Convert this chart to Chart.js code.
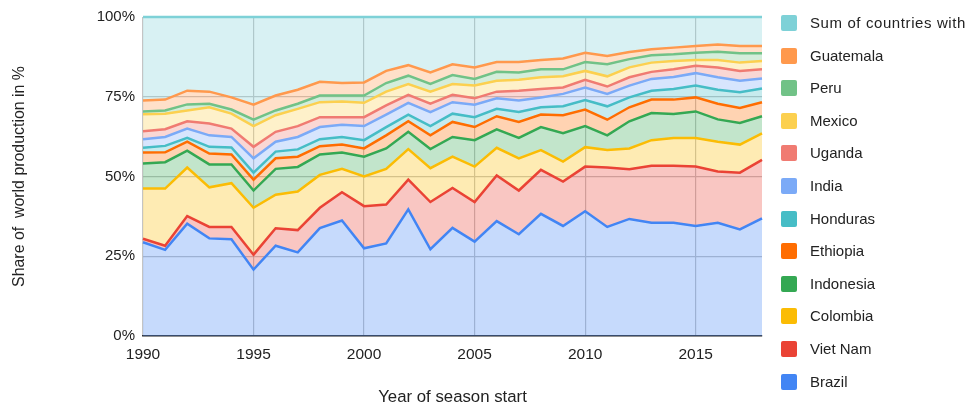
<!DOCTYPE html>
<html><head><meta charset="utf-8">
<script src="https://cdn.jsdelivr.net/npm/chart.js@4"></script>
<style>
html,body{margin:0;padding:0;background:#fff;}
#wrap{position:relative;width:975px;height:408px;overflow:hidden;}
#legend{position:absolute;left:781px;top:0;width:194px;height:408px;overflow:hidden;font-family:Arial,"Liberation Sans",sans-serif;font-size:15px;color:#222;}
.item{position:absolute;left:0;height:16px;white-space:nowrap;}
.box{position:absolute;left:0;top:0;width:16px;height:16px;border-radius:2px;}
.lab{position:absolute;left:29px;top:-1px;line-height:18px;}
</style></head>
<body><div id="wrap"><canvas id="c" width="975" height="408"></canvas><div id="legend"></div></div>
<script>
const years = [1990,1991,1992,1993,1994,1995,1996,1997,1998,1999,2000,2001,2002,2003,2004,2005,2006,2007,2008,2009,2010,2011,2012,2013,2014,2015,2016,2017,2018];
const yTicks = [0,25,50,75,100];
const brazil    = [29.4,27.0,35.2,30.6,30.3,20.8,28.3,26.2,33.8,36.2,27.5,29.0,39.7,27.2,33.9,29.6,36.0,31.9,38.3,34.5,39.1,34.2,36.7,35.5,35.5,34.5,35.5,33.4,36.9];
const vietNam   = [1.1,1.3,2.4,3.6,3.9,4.7,5.5,7.0,6.4,8.9,13.2,12.2,9.3,14.8,12.5,12.4,14.3,13.7,13.8,13.9,14.0,18.6,15.6,17.9,17.9,18.6,16.1,17.8,18.3];
const colombia  = [15.7,17.9,15.2,12.4,13.7,14.7,10.5,12.1,10.3,7.3,9.3,11.2,9.6,10.6,9.8,11.1,8.7,10.1,6.2,6.3,6.1,5.5,6.5,8.0,8.7,9.0,9.3,8.8,8.3];
const indonesia = [7.9,8.3,5.3,7.2,5.9,5.4,8.1,7.7,6.4,5.1,6.2,6.4,5.4,6.0,6.2,8.3,5.8,6.4,7.2,8.9,6.6,4.6,8.5,8.5,7.5,8.3,7.0,6.8,5.4];
const ethiopia  = [3.4,3.1,2.8,3.4,3.1,3.4,3.3,3.2,2.6,2.5,2.6,4.1,3.3,4.3,4.7,4.1,4.1,5.0,3.9,5.6,5.2,4.9,4.4,4.2,4.5,4.4,4.9,4.7,4.4];
const honduras  = [1.5,2.0,1.2,2.1,2.2,2.2,2.1,2.3,2.2,2.4,2.6,2.6,2.1,2.9,2.6,3.1,2.3,3.1,2.3,2.8,3.0,4.2,3.1,2.8,3.3,3.7,4.4,4.9,4.3];
const india     = [2.7,2.8,2.9,3.6,3.3,4.5,3.1,3.9,3.8,3.8,4.4,3.9,3.7,4.4,3.6,3.9,3.3,3.6,3.1,3.9,3.9,3.9,3.7,3.7,3.8,3.9,3.9,3.6,3.1];
const uganda    = [2.5,2.4,2.3,3.7,2.6,3.6,3.1,3.4,3.1,2.4,2.8,2.9,2.5,2.6,2.3,2.0,2.1,3.1,2.6,2.0,2.4,2.3,2.6,2.2,2.4,2.3,3.1,3.1,2.9];
const mexico    = [5.3,4.9,3.4,5.1,4.7,6.5,5.2,5.4,4.7,4.9,4.5,4.3,3.4,3.8,3.4,4.0,3.4,3.4,3.7,3.5,2.8,3.2,3.1,2.9,2.6,1.8,2.3,2.6,2.6];
const peru      = [0.9,1.0,1.9,1.1,1.3,2.0,1.5,1.6,2.1,1.9,2.3,2.7,2.6,2.4,2.8,2.1,2.8,2.3,2.5,2.2,2.8,3.8,2.6,2.3,2.1,2.3,2.6,2.9,2.4];
const guatemala = [3.4,3.4,4.3,3.8,3.8,4.7,4.7,4.4,4.3,3.9,4.1,3.8,3.3,3.6,3.4,3.6,3.1,3.3,2.9,3.4,2.9,2.6,2.2,1.9,2.1,2.1,2.3,2.3,2.3];
const others    = [26.2,25.9,23.1,23.4,25.2,27.5,24.6,22.8,20.3,20.7,20.5,16.9,15.1,17.4,14.8,15.8,14.1,14.1,13.5,13.0,11.2,12.2,11.0,10.1,9.6,9.1,8.6,9.1,9.1];

const seriesNames = ["Brazil","Viet Nam","Colombia","Indonesia","Ethiopia","Honduras","India","Uganda","Mexico","Peru","Guatemala","Sum of countries with"];
const seriesData = [brazil,vietNam,colombia,indonesia,ethiopia,honduras,india,uganda,mexico,peru,guatemala,others];
const seriesColors = ["#4285F4","#EA4335","#FBBC04","#34A853","#FF6D01","#46BDC6","#7BAAF7","#F07B72","#FCD04F","#71C287","#FF994D","#7ED1D7"];

function hexA(h,a){const n=parseInt(h.slice(1),16);return `rgba(${n>>16&255},${n>>8&255},${n&255},${a})`;}

const FONT = 'Arial, "Liberation Sans", sans-serif';
const datasets = seriesNames.map((name,i)=>({
  label: name,
  data: seriesData[i],
  borderColor: seriesColors[i],
  backgroundColor: hexA(seriesColors[i],0.3),
  borderWidth: 2.5,
  pointRadius: 0,
  pointHoverRadius: 0,
  tension: 0,
  clip: 4,
  fill: i===0 ? 'origin' : '-1'
}));

new Chart(document.getElementById('c'), {
  type: 'line',
  data: { labels: years.map(String), datasets },
  options: {
    responsive: false,
    animation: false,
    devicePixelRatio: 1,
    layout: { padding: { left: 0, right: 213, top: 14, bottom: 0 } },
    plugins: { legend: { display: false }, tooltip: { enabled: false } },
    scales: {
      x: {
        type: 'category',
        offset: false,
        grid: {
          drawTicks: false,
          color: ctx => (ctx.index % 5 === 0 ? '#c4c4c4' : 'rgba(0,0,0,0)'),
          lineWidth: 1.2
        },
        border: { display: true, color: '#333', width: 1.5 },
        ticks: {
          autoSkip: false, maxRotation: 0, padding: 9,
          color: '#222', font: { family: FONT, size: 15.5 },
          callback: function(v, i){ return (years[i] % 5 === 0) ? String(years[i]) : ''; }
        },
        title: { display: true, text: 'Year of season start', color: '#222', font: { family: FONT, size: 16.8 }, padding: { top: 0, bottom: 1 } },
        afterFit: s => { s.height = 72; }
      },
      y: {
        stacked: true,
        min: 0, max: 100,
        afterBuildTicks: s => { s.ticks = yTicks.map(v => ({ value: v })); },
        grid: { drawTicks: false, color: '#c4c4c4', lineWidth: 1.2 },
        border: { display: false },
        ticks: { padding: 8, color: '#222', font: { family: FONT, size: 15 }, callback: v => v + '%' },
        title: { display: true, text: 'Share of  world production in %', color: '#222', font: { family: FONT, size: 15.9 }, padding: { top: 10, bottom: 4 } },
        afterFit: s => { s.width = 143; }
      }
    }
  }
});

const leg = document.getElementById('legend');
for (let k = seriesNames.length - 1, j = 0; k >= 0; k--, j++) {
  const it = document.createElement('div');
  it.className = 'item';
  it.style.top = (15 + j * 32.6) + 'px';
  const b = document.createElement('div'); b.className = 'box'; b.style.background = seriesColors[k];
  const t = document.createElement('div'); t.className = 'lab'; t.textContent = seriesNames[k];
  if (k === seriesNames.length - 1) t.style.letterSpacing = '0.6px';
  it.appendChild(b); it.appendChild(t); leg.appendChild(it);
}
</script>
</body></html>
